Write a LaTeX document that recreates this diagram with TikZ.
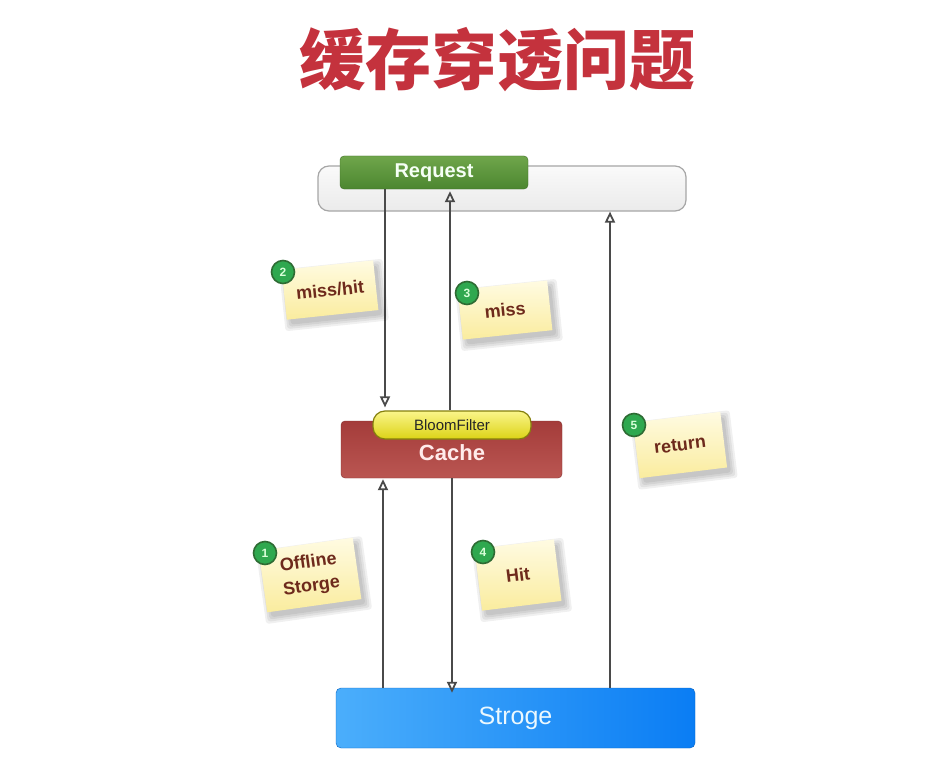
\documentclass[tikz,border=0pt]{standalone}
\usepackage{fontspec}
\setmainfont{Liberation Sans}
\newfontfamily\cjk{Noto Sans CJK SC}
\usetikzlibrary{arrows.meta,calc}
\definecolor{titlered}{HTML}{C4323D}
\definecolor{arrgray}{HTML}{4A4A4A}
\definecolor{notetext}{HTML}{6E2A1C}
\definecolor{notetop}{HTML}{FFFBE2}
\definecolor{notebot}{HTML}{FAEC9E}
\definecolor{reqtop}{HTML}{6FA64B}
\definecolor{reqbot}{HTML}{4C8630}
\definecolor{cachetop}{HTML}{A43C3A}
\definecolor{cachebot}{HTML}{BA5652}
\definecolor{bloomtop}{HTML}{FAF58A}
\definecolor{bloombot}{HTML}{DCD316}
\definecolor{storeleft}{HTML}{4BAEFB}
\definecolor{storeright}{HTML}{0A7DF4}
\definecolor{numfill}{HTML}{2FA84F}
\definecolor{numdraw}{HTML}{2E6B33}
\tikzset{
  arr/.style={draw=arrgray,line width=2.8pt,-{Triangle[open,length=11pt,width=10pt,line width=1.8pt]}},
  note/.style={draw=none,top color=notetop,bottom color=notebot,inner sep=0pt,
     text=notetext,font=\bfseries\fontsize{18}{24}\selectfont,align=center},
  noteshadow/.style={draw=none,fill=black,fill opacity=0.06,inner sep=0pt,rounded corners=3pt},
  numc/.style={circle,draw=numdraw,line width=1.6pt,fill=numfill,
     text=white!85!green,minimum size=23pt,inner sep=0pt,font=\fontsize{12}{12}\selectfont\bfseries},
}
% \stickynote{name}{x}{y}{width}{height}{angle}{text}
\newcommand\stickynote[7]{%
  \foreach \g in {0,4,8,12}{%
    \node[noteshadow,rotate=#6,minimum width={#4+\g},minimum height={#5+\g}] at (#2+4,#3+5) {};}
  \node[note,rotate=#6,minimum width=#4,minimum height=#5] (#1) at (#2,#3) {#7};}
\begin{document}
\begin{tikzpicture}[x=1pt,y=-1pt]
\useasboundingbox[fill=white] (0,0) rectangle (948,781);
% title
\node[text=titlered,font=\cjk\bfseries\fontsize{66}{66}\selectfont] (title) at (497,60) {缓存穿透问题};
% request bar
\node[draw=black!35,line width=1.2pt,top color=black!2,bottom color=black!8,rounded corners=11pt,minimum width=368pt,minimum height=45pt,inner sep=0pt] (bar) at (502,188.5) {};
\node[draw=reqbot!80!black,top color=reqtop,bottom color=reqbot,
   rounded corners=4pt,minimum width=188pt,minimum height=33pt,inner sep=0pt,
   text=green!4!white,font=\bfseries\fontsize{20}{20}\selectfont] (req) at (434,172.5) {Request};
% cache
\node[draw=cachetop!80!black,top color=cachetop,bottom color=cachebot,
   rounded corners=4pt,minimum width=221pt,minimum height=57pt,inner sep=0pt] (cache) at (451.5,449.5) {};
\node[text=white!92!red,font=\bfseries\fontsize{22}{22}\selectfont] (cachet) at (452,453) {Cache};
\node[draw=bloombot!60!black,line width=1.2pt,top color=bloomtop,bottom color=bloombot,
   rounded corners=12pt,minimum width=158pt,minimum height=28pt,inner sep=0pt,
   font=\fontsize{15}{15}\selectfont,text=black!85] (bloom) at (452,425) {BloomFilter};
% storage
\node[draw=storeright!80!black,left color=storeleft,right color=storeright,
   rounded corners=5pt,minimum width=359pt,minimum height=60pt,inner sep=0pt,
   text=cyan!8!white,font=\fontsize{25}{25}\selectfont] (store) at (515.5,718) {Stroge};
% connector x positions
\coordinate (xa) at (385,0);
\coordinate (xb) at (450,0);
\coordinate (xc) at (383,0);
\coordinate (xd) at (452,0);
\coordinate (xe) at (610,0);
\draw[arr] (xa |- req.south) -- ($(xa |- bloom.north)+(0,-3)$);
\draw[arr] (xb |- bloom.north) -- ($(xb |- req.south)+(0,2)$);
\draw[arr] (xc |- store.north) -- ($(xc |- cache.south)+(0,1)$);
\draw[arr] (xd |- cache.south) -- ($(xd |- store.north)+(0,5)$);
\draw[arr] (xe |- store.north) -- (xe |- bar.south);
% notes
\stickynote{n2}{330}{290}{92}{50}{6}{miss/hit}
\node[numc] (c2) at (283,272) {2};
\stickynote{n3}{505}{310}{90}{50}{6}{miss}
\node[numc] (c3) at (467,293) {3};
\stickynote{n1}{310}{575}{95}{62}{8}{Offline\\Storge}
\node[numc] (c1) at (265,553) {1};
\stickynote{n4}{518}{575}{80}{62}{7}{Hit}
\node[numc] (c4) at (483,552) {4};
\stickynote{n5}{680}{445}{88}{56}{7}{return}
\node[numc] (c5) at (634,425) {5};
\end{tikzpicture}
\end{document}
